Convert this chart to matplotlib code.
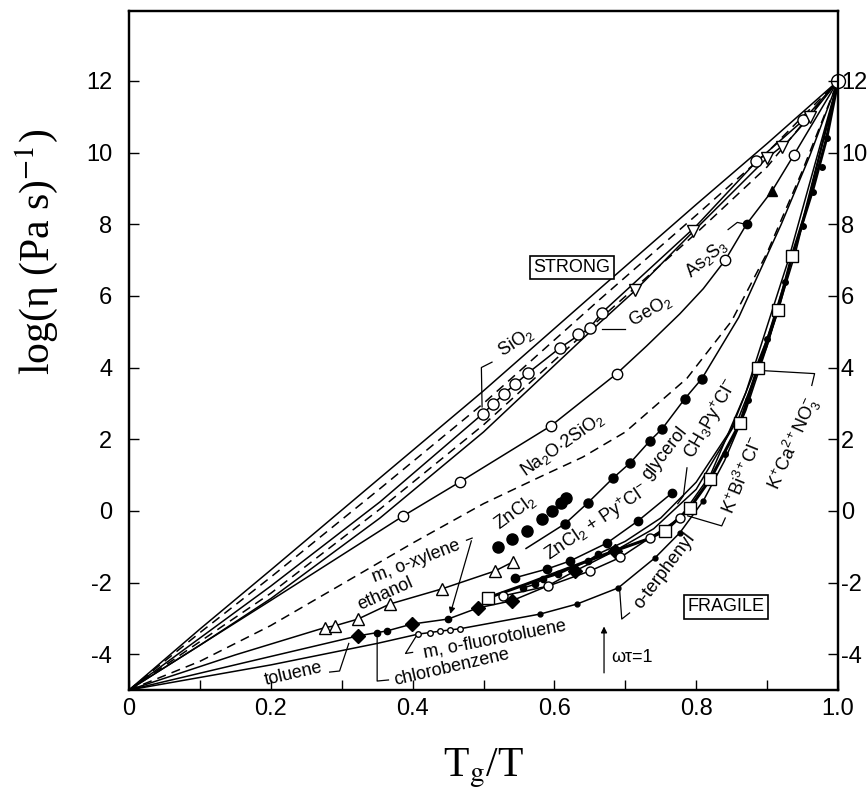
import numpy as np
import matplotlib
matplotlib.use("Agg")
import matplotlib.pyplot as plt

"----------------------------------------- DATA (read off the figure) -----------------------------------------"
# upper "strong" bundle, all running from (0,-5) to (1,12)
u1_x = [0, 0.1, 0.2, 0.354, 0.5, 0.664, 0.8, 0.9, 1.0]
u1_y = [-5, -3.3, -1.65, 0.92, 3.35, 6.2, 8.55, 10.25, 12]
u2_x = [0, 0.1, 0.2, 0.354, 0.5, 0.664, 0.8, 0.9, 1.0]
u2_y = [-5, -3.4, -1.85, 0.62, 3.0, 5.9, 8.25, 10.0, 12]
u4_x = [0, 0.1, 0.2, 0.354, 0.5, 0.664, 0.8, 0.9, 1.0]
u4_y = [-5, -3.65, -2.3, 0.05, 2.4, 5.35, 7.75, 9.6, 12]

# SiO2 / GeO2 open circles and their line
sio2_line_x = [0, 0.1, 0.2, 0.354, 0.499, 0.529, 0.563, 0.608, 0.650, 0.667, 0.8, 0.885, 0.951, 1.0]
sio2_line_y = [-5, -3.55, -2.1, 0.25, 2.71, 3.27, 3.85, 4.55, 5.11, 5.53, 7.95, 9.75, 10.9, 12]
sio2_x = [0.499, 0.514, 0.529, 0.544, 0.563, 0.885, 0.951]
sio2_y = [2.71, 2.99, 3.27, 3.54, 3.85, 9.75, 10.9]
geo2_x = [0.608, 0.633, 0.650, 0.667]
geo2_y = [4.55, 4.94, 5.11, 5.53]

# triangles line
tri_line_x = [0, 0.1, 0.2, 0.354, 0.5, 0.664, 0.714, 0.796, 0.9, 0.929, 0.96, 1.0]
tri_line_y = [-5, -3.75, -2.45, -0.2, 2.2, 5.25, 6.15, 7.8, 9.85, 10.3, 11.0, 12]
tri_x = [0.714, 0.796, 0.90, 0.921, 0.96]
tri_y = [6.15, 7.8, 9.85, 10.15, 11.0]

# Na2O.2SiO2 (+ As2S3 points on its upper part)
na_line_x = [0, 0.2, 0.387, 0.467, 0.595, 0.688, 0.73, 0.777, 0.81, 0.841, 0.871, 0.907, 0.938, 1.0]
na_line_y = [-5, -2.5, -0.14, 0.81, 2.37, 3.83, 4.6, 5.5, 6.2, 7.0, 8.0, 8.93, 9.94, 12]
na_x = [0.387, 0.467, 0.595, 0.688, 0.841, 0.938]
na_y = [-0.14, 0.81, 2.37, 3.83, 7.0, 9.94]
as_x = [0.871, 0.907]
as_y = [8.0, 8.93]

# dashed fit through the ZnCl2 region
dash_x = [0, 0.1, 0.2, 0.3, 0.4, 0.5, 0.58, 0.64, 0.7, 0.787, 0.85, 0.9, 0.95, 1.0]
dash_y = [-5, -4.2, -3.2, -2.05, -0.9, 0.2, 0.95, 1.5, 2.2, 3.7, 5.3, 7.2, 9.5, 12]

zncl2_x = [0.52, 0.54, 0.561, 0.582, 0.597, 0.61, 0.617]
zncl2_y = [-1.02, -0.78, -0.56, -0.23, 0.0, 0.22, 0.37]

gly_line_x = [0.56, 0.615, 0.647, 0.683, 0.707, 0.735, 0.752, 0.784, 0.808, 0.86, 0.92, 0.96, 1.0]
gly_line_y = [-1.05, -0.36, 0.22, 0.92, 1.34, 1.96, 2.29, 3.13, 3.69, 5.4, 8.0, 9.9, 12]
gly_x = [0.615, 0.647, 0.683, 0.707, 0.735, 0.752, 0.784, 0.808]
gly_y = [-0.36, 0.22, 0.92, 1.34, 1.96, 2.29, 3.13, 3.69]

pycl_x = [0.544, 0.59, 0.622, 0.674, 0.718, 0.766]
pycl_y = [-1.87, -1.62, -1.4, -0.9, -0.28, 0.5]

# lower "fragile" fan
eth_line_x = [0, 0.15, 0.276, 0.29, 0.323, 0.368, 0.441, 0.516, 0.542]
eth_line_y = [-5, -4.02, -3.26, -3.21, -3.02, -2.6, -2.18, -1.68, -1.42]
eth_x = [0.276, 0.29, 0.323, 0.368, 0.441, 0.516, 0.542]
eth_y = [-3.26, -3.21, -3.02, -2.6, -2.18, -1.68, -1.42]

dia_line_x = [0, 0.16, 0.323, 0.364, 0.399, 0.45, 0.492, 0.54, 0.59, 0.629, 0.685, 0.74, 0.8, 0.86, 0.9, 0.94, 1.0]
dia_line_y = [-5, -4.25, -3.49, -3.35, -3.16, -3.02, -2.71, -2.51, -2.1, -1.68, -1.12, -0.5, 0.6, 2.6, 4.6, 7.2, 12]
dia_x = [0.323, 0.399, 0.492, 0.54, 0.629, 0.685]
dia_y = [-3.49, -3.16, -2.71, -2.51, -1.68, -1.12]
dot_x = [0.35, 0.364, 0.45]
dot_y = [-3.42, -3.35, -3.02]

ter_line_x = [0, 0.2, 0.35, 0.408, 0.438, 0.467, 0.58, 0.632, 0.69, 0.742, 0.777, 0.81, 0.84, 0.87, 0.9, 0.95, 1.0]
ter_line_y = [-5, -4.3, -3.7, -3.44, -3.36, -3.29, -2.88, -2.6, -2.15, -1.31, -0.61, 0.28, 1.4, 2.8, 4.6, 8.1, 12]
ter_x = [0.58, 0.632, 0.69, 0.742, 0.777, 0.81]
ter_y = [-2.88, -2.6, -2.15, -1.31, -0.61, 0.28]
fluo_x = [0.408, 0.424, 0.438, 0.453, 0.467]
fluo_y = [-3.44, -3.4, -3.36, -3.33, -3.29]

kca_line_x = [0.506, 0.56, 0.62, 0.68, 0.73, 0.756, 0.791, 0.82, 0.862, 0.887, 0.915, 0.935, 0.965, 0.984, 1.0]
kca_line_y = [-2.43, -2.05, -1.6, -1.15, -0.8, -0.56, 0.08, 0.89, 2.46, 4.0, 5.6, 7.1, 9.0, 10.4, 12]
kca_sq_x = [0.506, 0.756, 0.791, 0.82, 0.862, 0.887, 0.915, 0.935]
kca_sq_y = [-2.43, -0.56, 0.08, 0.89, 2.46, 4.0, 5.6, 7.1]
kca_dot_x = [0.84, 0.873, 0.9, 0.925, 0.95, 0.965, 0.977, 0.984]
kca_dot_y = [1.6, 3.1, 4.8, 6.4, 7.95, 8.9, 9.6, 10.4]

ch3_line_x = [0.528, 0.591, 0.65, 0.693, 0.735, 0.777, 0.82, 0.87, 0.93, 1.0]
ch3_line_y = [-2.37, -2.1, -1.68, -1.3, -0.75, -0.2, 1.0, 3.3, 7.0, 12]
ch3_x = [0.528, 0.591, 0.65, 0.693, 0.735, 0.777]
ch3_y = [-2.37, -2.1, -1.68, -1.3, -0.75, -0.2]

kbi_line_x = [0.556, 0.573, 0.584, 0.605, 0.647, 0.662, 0.7, 0.75, 0.8, 0.85, 0.9, 0.95, 1.0]
kbi_line_y = [-2.15, -2.05, -1.9, -1.77, -1.4, -1.2, -0.85, -0.2, 0.8, 2.3, 4.8, 8.0, 12]
kbi_x = [0.556, 0.573, 0.584, 0.605, 0.647, 0.662]
kbi_y = [-2.15, -2.05, -1.9, -1.77, -1.4, -1.2]

x_ticks = [0, 0.2, 0.4, 0.6, 0.8, 1.0]
x_ticklabels = ["0", "0.2", "0.4", "0.6", "0.8", "1.0"]
y_ticks = [-4, -2, 0, 2, 4, 6, 8, 10, 12]
y_ticklabels = ["-4", "-2", "0", "2", "4", "6", "8", "10", "12"]

"----------------------------------------- STYLE -----------------------------------------"
plt.rcParams['font.family'] = ['Liberation Sans', 'DejaVu Sans']
plt.rcParams['mathtext.fontset'] = 'custom'
plt.rcParams['mathtext.rm'] = 'Liberation Sans'
plt.rcParams['mathtext.it'] = 'Liberation Sans:italic'
plt.rcParams['mathtext.bf'] = 'Liberation Sans:bold'

fig = plt.figure(figsize=(8.67, 7.98), dpi=100)
ax = fig.add_axes([129/867, 1 - 690/798, 709/867, 679/798])
ax.set_xlim(0, 1)
ax.set_ylim(-5, 13.95)

LW = 1.1
DASH = (6, 4)


def curve(x, y, dashed=False, lw=LW):
    line, = ax.plot(x, y, color='k', lw=lw, zorder=2)
    if dashed:
        line.set_dashes(DASH)


def marks(x, y, m, ms, filled=False):
    ax.plot(x, y, ls='none', marker=m, ms=ms, mfc='k' if filled else 'white',
            mec='k', mew=1.0, zorder=3, clip_on=False)


"----------------------------------------- CURVES -----------------------------------------"
curve(u1_x, u1_y)
curve(u2_x, u2_y, dashed=True)
curve(sio2_line_x, sio2_line_y)
curve(u4_x, u4_y, dashed=True)
curve(tri_line_x, tri_line_y)
curve(na_line_x, na_line_y)
curve(dash_x, dash_y, dashed=True)
curve(gly_line_x, gly_line_y)
curve(pycl_x, pycl_y)
curve(eth_line_x, eth_line_y)
curve(dia_line_x, dia_line_y)
curve(ter_line_x, ter_line_y)
curve(kca_line_x, kca_line_y, lw=2.2)
curve(ch3_line_x, ch3_line_y)
curve(kbi_line_x, kbi_line_y)

marks(sio2_x, sio2_y, 'o', 8)
marks(geo2_x, geo2_y, 'o', 8)
marks(tri_x, tri_y, 'v', 8)
marks(na_x, na_y, 'o', 7.5)
marks(as_x[:1], as_y[:1], 'o', 6, True)
marks(as_x[1:], as_y[1:], '^', 6.5, True)
marks(zncl2_x, zncl2_y, 'o', 8, True)
marks(gly_x, gly_y, 'o', 6.5, True)
marks(pycl_x, pycl_y, 'o', 6, True)
marks(eth_x, eth_y, '^', 8)
marks(dia_x, dia_y, 'D', 7, True)
marks(dot_x, dot_y, 'o', 4.5, True)
marks(ter_x, ter_y, 'o', 3.5, True)
marks(fluo_x, fluo_y, 'o', 4)
marks(kca_dot_x, kca_dot_y, 'o', 4, True)
marks(kca_sq_x, kca_sq_y, 's', 8)
marks(ch3_x, ch3_y, 'o', 6.5)
marks(kbi_x, kbi_y, 'o', 4.5, True)
marks([1.0], [12], 'o', 10)

"----------------------------------------- LABELS -----------------------------------------"
FS = 13
box = dict(boxstyle='square,pad=0.18', fc='white', ec='k', lw=1.2)
ax.text(0.625, 6.79, "STRONG", fontsize=FS, ha='center', va='center', bbox=box)
ax.text(0.842, -2.68, "FRAGILE", fontsize=FS, ha='center', va='center', bbox=box)

labels = [
    (0.545, 4.7, r"SiO$_\mathrm{2}$", 33),
    (0.735, 5.6, r"GeO$_\mathrm{2}$", 30),
    (0.612, 1.85, r"Na$_\mathrm{2}$O$\cdot$2SiO$_\mathrm{2}$", 35),
    (0.814, 7.05, r"As$_\mathrm{2}$S$_\mathrm{3}$", 40),
    (0.545, -0.05, r"ZnCl$_\mathrm{2}$", 36),
    (0.66, -0.33, r"ZnCl$_\mathrm{2}$ + Py$^\mathrm{+}$Cl$^\mathrm{-}$", 34),
    (0.756, 1.62, "glycerol", 52),
    (0.822, 2.57, r"CH$_\mathrm{3}$Py$^\mathrm{+}$Cl$^\mathrm{-}$", 60),
    (0.866, 0.98, r"K$^\mathrm{+}$Bi$^\mathrm{3+}$Cl$^\mathrm{-}$", 68),
    (0.937, 1.87, r"K$^\mathrm{+}$Ca$^\mathrm{2+}$NO$_\mathrm{3}^\mathrm{-}$", 66),
    (0.405, -1.4, "m, o-xylene", 21),
    (0.361, -2.33, "ethanol", 24),
    (0.232, -4.56, "toluene", 13),
    (0.455, -4.38, "chlorobenzene", 13),
    (0.516, -3.58, "m, o-fluorotoluene", 11),
    (0.756, -1.68, "o-terphenyl", 53),
]
for lx, ly, txt, rot in labels:
    ax.text(lx, ly, txt, fontsize=FS, ha='center', va='center', rotation=rot,
            rotation_mode='anchor')

# pointer lines from labels to data
pointers = [
    ([0.512, 0.497, 0.498], [4.15, 4.0, 2.9]),
    ([0.70, 0.667], [5.08, 5.08]),
    ([0.845, 0.858, 0.869], [7.85, 8.05, 8.0]),
    ([0.787, 0.782, 0.774], [1.2, 0.42, 0.2]),
    ([0.788, 0.836, 0.841], [-0.14, -0.42, -0.2]),
    ([0.897, 0.967, 0.963], [3.91, 3.83, 3.5]),
    ([0.283, 0.297, 0.31], [-4.5, -4.47, -3.7]),
    ([0.35, 0.35, 0.366], [-3.5, -4.75, -4.72]),
    ([0.40, 0.39, 0.405], [-3.95, -3.98, -3.5]),
    ([0.706, 0.695, 0.692], [-2.85, -3.02, -2.2]),
    ([0.476, 0.484], [-0.82, -0.76]),
]
for px, py in pointers:
    ax.plot(px, py, color='k', lw=0.9, zorder=2)

ax.annotate("", xy=(0.452, -2.95), xytext=(0.484, -0.76),
            arrowprops=dict(arrowstyle='-|>', color='k', lw=0.9, mutation_scale=9))
ax.annotate("", xy=(0.67, -3.15), xytext=(0.67, -4.6),
            arrowprops=dict(arrowstyle='-|>', color='k', lw=0.9, mutation_scale=9))
ax.text(0.68, -4.1, "ωτ=1", fontsize=FS, ha='left', va='center')

"----------------------------------------- AXES -----------------------------------------"
ax.set_xticks(x_ticks)
ax.set_xticklabels(x_ticklabels)
ax.set_xticks(np.arange(0.1, 1.0, 0.2), minor=True)
ax.set_yticks(y_ticks)
ax.set_yticklabels(y_ticklabels)
ax.tick_params(axis='both', which='both', direction='in', length=7, width=1.0,
               labelsize=17, top=False, right=False)
ax.tick_params(axis='y', pad=12)
ax.tick_params(axis='x', pad=6)

ax2 = ax.twinx()
ax2.set_ylim(ax.get_ylim())
ax2.set_yticks(y_ticks)
ax2.set_yticklabels(y_ticklabels)
ax2.tick_params(axis='y', direction='in', length=7, width=1.0, labelsize=17, pad=2)

for a in (ax, ax2):
    for s in a.spines.values():
        s.set_linewidth(1.6)

fig.text(0.042, 0.685, r"log(η (Pa s)$^{-1}$)", fontsize=30, family='Liberation Serif',
         math_fontfamily='stix', rotation=90, ha='center', va='center')
fig.text(483/867, 1 - 768/798, r"T$_\mathrm{g}$/T", fontsize=30, family='Liberation Serif',
         math_fontfamily='stix', ha='center', va='center')

plt.savefig("out.png", dpi=100)
